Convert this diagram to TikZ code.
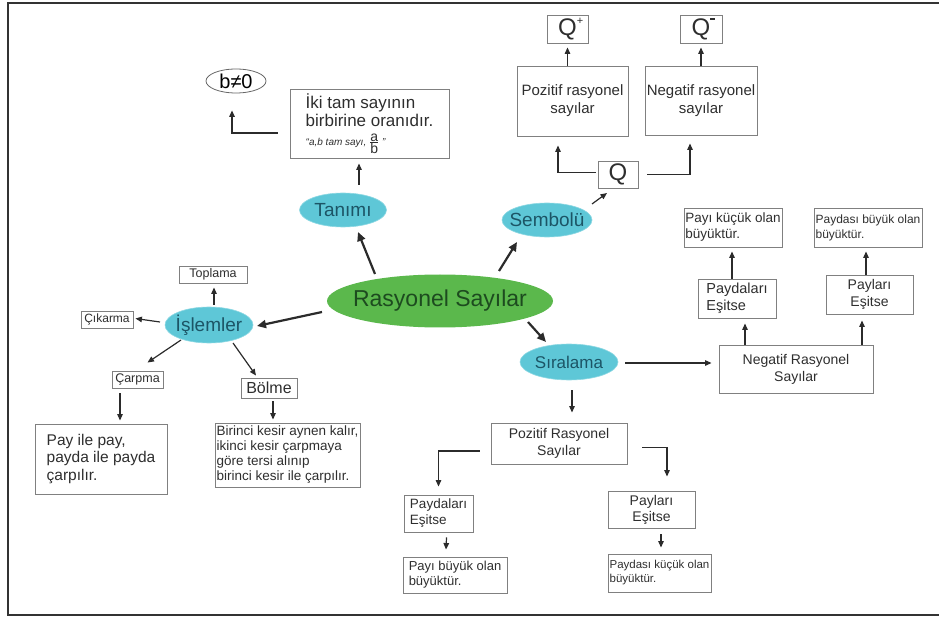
\documentclass[tikz,border=0pt]{standalone}
\usepackage{fontspec}
\setmainfont{Liberation Sans}
\usetikzlibrary{arrows.meta,calc,shapes.geometric}
\definecolor{boxgray}{HTML}{808080}
\definecolor{linedark}{HTML}{2B2B2B}
\definecolor{cyanfill}{HTML}{5EC7D7}
\definecolor{cyantext}{HTML}{1C5566}
\definecolor{greenfill}{HTML}{5BB84C}
\definecolor{greentext}{HTML}{1D4B1F}
\newcommand{\fsz}[2]{\fontsize{#1}{#2}\selectfont}
\newcommand{\ctr}[1]{\makebox[0pt]{#1}}
\begin{document}
\begin{tikzpicture}[x=1pt,y=-1pt,
  box/.style={draw=boxgray, line width=0.9pt, inner sep=0pt, align=center, text=black!82},
  lbox/.style={box, align=left},
  oval/.style={ellipse, inner sep=0pt},
  cyanoval/.style={oval, fill=cyanfill, draw=cyanfill!70!white, line width=0.6pt, text=cyantext},
  arr/.style={draw=linedark, line width=1.2pt, -{Triangle[length=6.5pt,width=5.5pt]}},
  bigarr/.style={draw=linedark, line width=2.2pt, -{Triangle[length=9pt,width=8pt]}},
]
\useasboundingbox (0,0) rectangle (939,617);
\clip (0,0) rectangle (939,617);
\draw[line width=2.5pt, draw=black!80] (8,3) rectangle (960,615);

% ovals
\node[oval, draw=black!60, line width=0.8pt, minimum width=60pt, minimum height=24pt, font=\fsz{20pt}{24pt}] (bne) at (236,81) {\ctr{b≠0}};
\node[cyanoval, minimum width=87pt, minimum height=34pt, font=\fsz{19pt}{22pt}] (tanimi) at (343,210) {\ctr{Tanımı}};
\node[oval, fill=greenfill, text=greentext, minimum width=226pt, minimum height=53pt, font=\fsz{23pt}{26pt}] (main) at (440,301) {\ctr{Rasyonel Sayılar}};
\node[cyanoval, minimum width=90pt, minimum height=34pt, font=\fsz{19pt}{22pt}] (sembol) at (547,220) {\ctr{Sembolü}};
\node[cyanoval, minimum width=98pt, minimum height=36pt, font=\fsz{17pt}{20pt}] (sira) at (569,362) {\ctr{Sıralama}};
\node[cyanoval, minimum width=88pt, minimum height=36pt, font=\fsz{19pt}{22pt}] (islem) at (209,325) {\ctr{İşlemler}};

% boxes
\node[box, align=left, minimum width=159pt, minimum height=69pt, font=\fsz{17pt}{18pt}] (iki) at (369.5,123.5)
  {İki tam sayının\\ birbirine oranıdır.\\[1pt] {\fsz{10pt}{12pt}\itshape “a,b tam sayı, $\frac{\hbox{\upshape\fsz{14pt}{14pt}a}}{\hbox{\upshape\fsz{14pt}{14pt}b}}$ ”}};
\node[box, minimum width=40pt, minimum height=27pt, font=\fsz{24pt}{26pt}] (Q) at (618,174.5) {Q};
\node[box, minimum width=111pt, minimum height=70pt, font=\fsz{15pt}{18pt}] (pozr) at (572.5,101) {Pozitif rasyonel\\sayılar};
\node[box, minimum width=112pt, minimum height=69pt, font=\fsz{15pt}{18pt}] (negr) at (701,100.5) {Negatif rasyonel\\sayılar};
\node[box, minimum width=41pt, minimum height=28pt, font=\fsz{24pt}{26pt}] (qp) at (567.5,29) {Q\rlap{\raisebox{11pt}{\fsz{11pt}{11pt}+}}};
\node[box, minimum width=42pt, minimum height=28pt, font=\fsz{24pt}{26pt}] (qm) at (701,29) {Q\rlap{\raisebox{15pt}{\rule{5pt}{2pt}}}};

\node[box, minimum width=68pt, minimum height=17pt, font=\fsz{12.5pt}{14pt}] (toplama) at (213,274.5) {Toplama};
\node[box, minimum width=52pt, minimum height=17pt, font=\fsz{12pt}{14pt}] (cikarma) at (107,319.5) {Çıkarma};
\node[box, minimum width=51pt, minimum height=17pt, font=\fsz{12.5pt}{14pt}] (carpma) at (137.5,379.5) {Çarpma};
\node[box, minimum width=56pt, minimum height=20pt, font=\fsz{16pt}{18pt}] (bolme) at (269,388) {Bölme};
\node[lbox, minimum width=132pt, minimum height=70pt, font=\fsz{15.5pt}{17.5pt}] (pay) at (101,459) {Pay ile pay,\\payda ile payda\\çarpılır.};
\node[lbox, minimum width=145pt, minimum height=64pt, font=\fsz{13.5pt}{15pt}] (birinci) at (287.5,455) {Birinci kesir aynen kalır,\\ikinci kesir çarpmaya\\göre tersi alınıp\\birinci kesir ile çarpılır.};

\node[box, minimum width=136pt, minimum height=41pt, font=\fsz{14pt}{17pt}] (pozR) at (559,443.5) {Pozitif Rasyonel\\Sayılar};
\node[lbox, minimum width=69pt, minimum height=37pt, font=\fsz{13.5pt}{16pt}] (paydL) at (438.5,513.5) {Paydaları\\Eşitse};
\node[lbox, minimum width=104pt, minimum height=36pt, font=\fsz{13pt}{15pt}] (payibuyuk) at (455,575) {Payı büyük olan\\büyüktür.};
\node[box, minimum width=87pt, minimum height=37pt, font=\fsz{14pt}{16pt}] (paylL) at (651.5,509.5) {Payları\\Eşitse};
\node[lbox, minimum width=103pt, minimum height=38pt, font=\fsz{11.5pt}{14pt}] (paydasikucuk) at (659.5,573) {Paydası küçük olan\\büyüktür.};
\node[box, minimum width=154pt, minimum height=48pt, font=\fsz{14pt}{17pt}] (negR) at (796,369) {Negatif Rasyonel\\Sayılar};
\node[lbox, minimum width=78pt, minimum height=39pt, font=\fsz{14.5pt}{17pt}] (paydR) at (737,298.5) {Paydaları\\Eşitse};
\node[lbox, minimum width=98pt, minimum height=39pt, font=\fsz{13.5pt}{16pt}] (payikucuk) at (733,227.5) {Payı küçük olan\\büyüktür.};
\node[box, minimum width=87pt, minimum height=39pt, font=\fsz{14pt}{17pt}] (paylR) at (869.5,294.5) {Payları\\Eşitse};
\node[lbox, minimum width=108pt, minimum height=39pt, font=\fsz{12pt}{15pt}] (paydasibuyuk) at (868,227.5) {Paydası büyük olan\\büyüktür.};

% connectors
\draw[bigarr] ($(main)+(-65,-27)$) -- ($(tanimi)+(15,22)$);
\draw[bigarr] ($(main)+(59,-30)$) -- ($(sembol)+(-30,22)$);
\draw[bigarr] ($(main)+(88,21)$) -- ($(sira)+(-23,-20)$);
\draw[bigarr] ($(main)+(-118,11)$) -- ($(islem)+(48,1)$);

\draw[arr] ($(tanimi.north)+(16,-8)$) -- ($(iki.south)+(-10.5,5)$);
\draw[arr] ($(iki.west)+(-12,9.5)$) -| ($(bne.south)+(-4,17)$);

\draw[arr] ($(sembol)+(45,-16)$) -- ($(Q)+(-11,18.5)$);
\draw[arr] ($(Q.west)+(-2,-2)$) -| ($(pozr.south)+(-14.5,9)$);
\draw[arr] ($(Q.east)+(9,0)$) -| ($(negr.south)+(-11,8)$);
\draw[arr] ($(pozr.north)+(-5,0)$) -- ($(qp.south)+(0,4)$);
\draw[arr] (negr.north) -- ($(qm.south)+(0,4)$);

\draw[arr] ($(islem.north)+(5,-2)$) -- ($(toplama.south)+(1,4)$);
\draw[arr] ($(islem)+(-49,-3)$) -- ($(cikarma.east)+(2,-1)$);
\draw[arr] ($(islem)+(-28,15)$) -- ($(carpma.north)+(10,-8)$);
\draw[arr] ($(islem)+(24,18)$) -- ($(bolme.north)+(-13,-2)$);
\draw[arr] ($(carpma.south)+(-17.5,5)$) -- ($(pay.north)+(19,-3)$);
\draw[arr] ($(bolme.south)+(4,3)$) -- ($(birinci.north)+(-14.5,-3)$);

\draw[arr] ($(sira.south)+(3,10)$) -- ($(pozR.north)+(13,-10)$);
\draw[arr] ($(pozR.west)+(-11,7.5)$) -| ($(paydL.north)+(0,-8)$);
\draw[arr] ($(pozR.east)+(15,4)$) -| ($(paylL.north)+(15.5,-14)$);
\draw[arr] ($(paydL.south)+(8,5)$) -- ($(payibuyuk.north)+(-9,-7)$);
\draw[arr] ($(paylL.south)+(9.5,6)$) -- ($(paydasikucuk.north)+(1.5,-6)$);

\draw[arr] ($(sira.east)+(7,1)$) -- ($(negR.west)+(-7,-6)$);
\draw[arr] ($(negR.north)+(-51,0)$) -- ($(paydR.south)+(8,5)$);
\draw[arr] ($(paydR.north)+(-5,0)$) -- ($(payikucuk.south)+(-1,4)$);
\draw[arr] ($(negR.north)+(66,0)$) -- ($(paylR.south)+(-7.5,6)$);
\draw[arr] ($(paylR.north)+(-3.5,0)$) -- ($(paydasibuyuk.south)+(-2,4)$);
\end{tikzpicture}
\end{document}
